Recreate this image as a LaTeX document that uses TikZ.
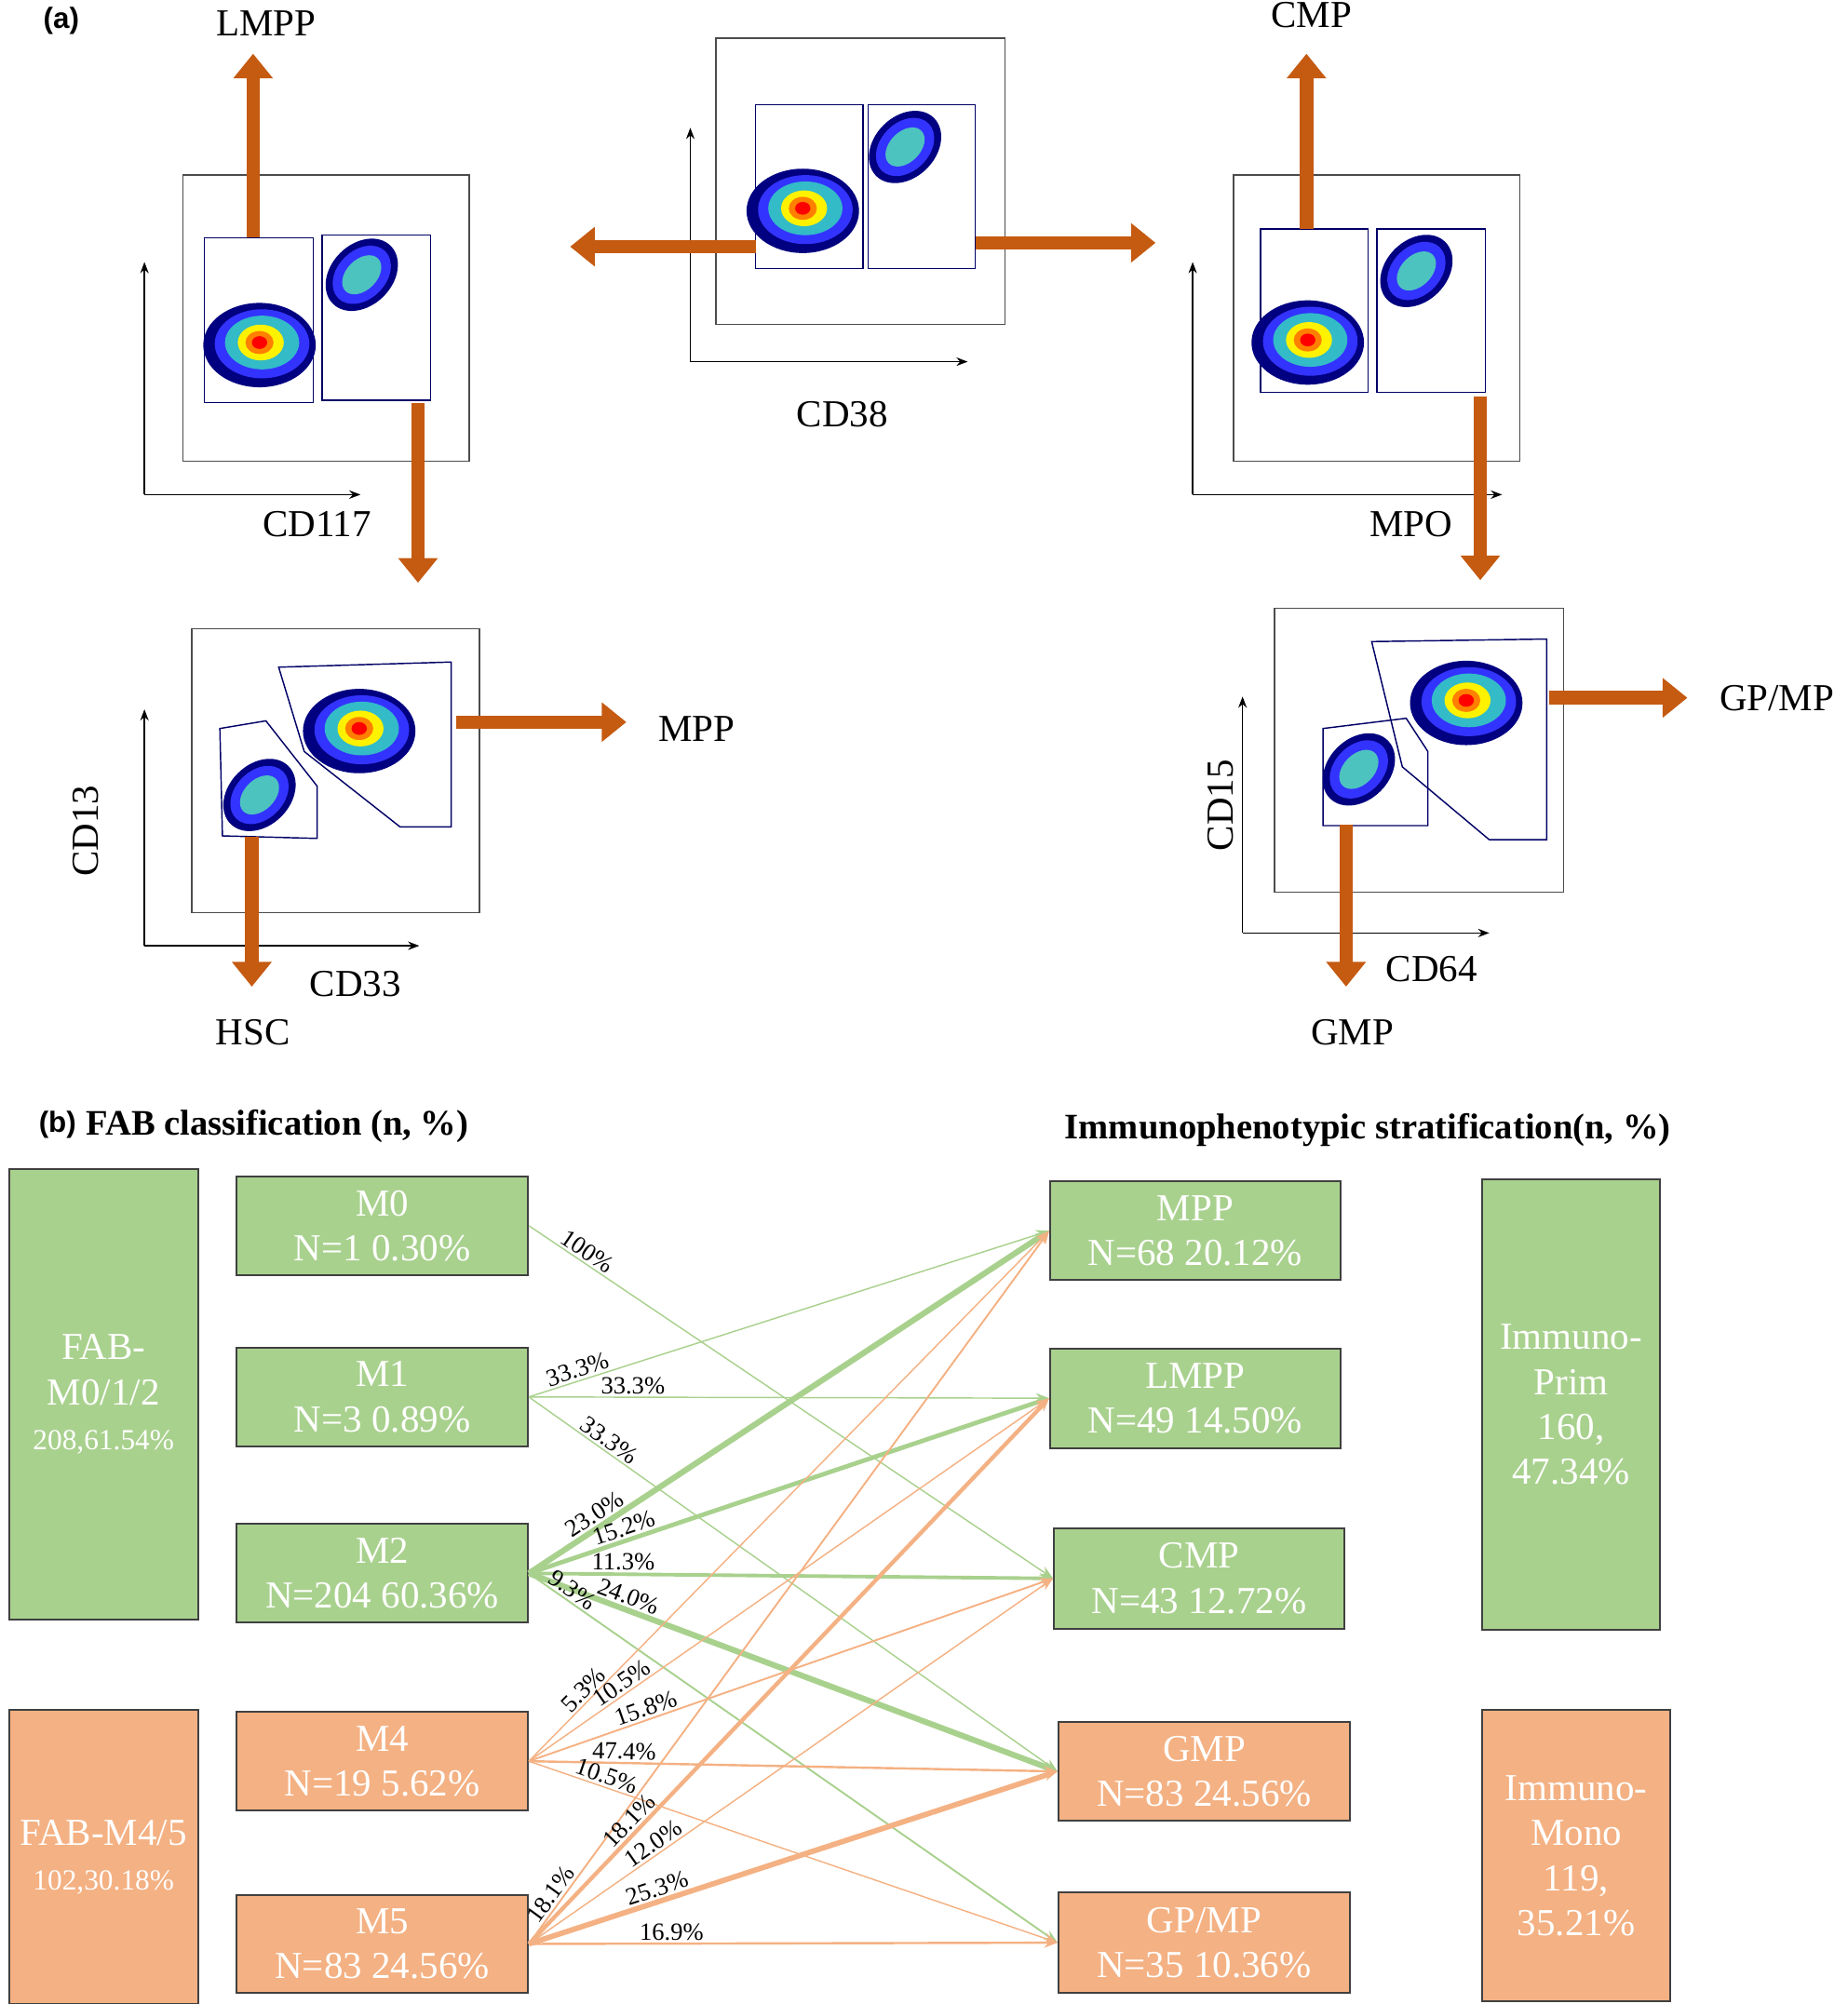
\documentclass[tikz,border=0pt]{standalone}
\usepackage{fontspec}
\setmainfont{Liberation Serif}
\newfontfamily\headfont{Liberation Sans}
\usetikzlibrary{arrows.meta}

\definecolor{arrbrown}{HTML}{C55A11}
\definecolor{boxgreen}{HTML}{A9D18E}
\definecolor{boxorange}{HTML}{F4B183}
\definecolor{edgegray}{HTML}{404040}

% dot plot blobs
\newcommand{\bigblob}[2]{%
  \begin{scope}[shift={(#1,#2)}]
    \fill[blue!50!black] (0,0) ellipse [x radius=44, y radius=33];
    \fill[blue!80!white] (2,-1) ellipse [x radius=37, y radius=27];
    \fill[cyan!70!green!80!white] (2,-2) ellipse [x radius=29, y radius=21];
    \fill[yellow] (1,-2) ellipse [x radius=18, y radius=14];
    \fill[orange] (0,-2) ellipse [x radius=11, y radius=9];
    \fill[red] (0,-2) ellipse [x radius=6, y radius=5];
  \end{scope}}
\newcommand{\smallblob}[2]{%
  \begin{scope}[shift={(#1,#2)}, rotate=45]
    \fill[blue!50!black] (0,0) ellipse [x radius=32, y radius=24];
    \fill[blue!80!white] (0,0) ellipse [x radius=26, y radius=19];
    \fill[cyan!60!green!70!white] (0,0) ellipse [x radius=18, y radius=12];
  \end{scope}}

\tikzset{
  flowarr/.style={draw=arrbrown, line width=6pt, -{Triangle[length=11pt,width=17pt]}},
  axis/.style={-{Stealth[length=5pt]}, line width=0.6pt},
  plot/.style={draw=black!70, line width=0.6pt},
  gate/.style={draw=black!60!blue, line width=0.6pt},
  lab/.style={font=\fontsize{17}{20}\selectfont},
  grbox/.style={fill=boxgreen, draw=edgegray, line width=0.8pt, text=white, align=center,
    font=\fontsize{17}{20}\selectfont},
  orbox/.style={grbox, fill=boxorange},
  gedge/.style={draw=boxgreen, -{Stealth[length=6pt]}},
  oedge/.style={draw=boxorange, -{Stealth[length=6pt]}},
  pct/.style={font=\fontsize{11}{13}\selectfont, text=black, sloped, above, inner sep=1pt},
}

\begin{document}
\begin{tikzpicture}[x=0.02cm, y=-0.02cm]
\useasboundingbox (0,0) rectangle (1445,1568);

% ---------- (a) ----------
\node[font=\headfont\bfseries\fontsize{13}{15}\selectfont] at (48,16) {(a)};

% top left plot
\draw[plot] (143,137) rectangle (367,361);
\draw[axis] (113,387) -- (113,205);
\draw[axis] (113,387) -- (282,387);
\draw[gate] (160,186) rectangle (245,315);
\draw[gate] (252,184) rectangle (337,313);
\bigblob{203}{270}
\smallblob{283}{215}
\draw[flowarr] (198,186) -- (198,42);
\draw[flowarr] (327,315) -- (327,456);
\node[lab] at (208,18) {LMPP};
\node[lab] at (248,410) {CD117};

% top centre plot
\draw[plot] (560,30) rectangle (786,254);
\draw[axis] (540,283) -- (540,100);
\draw[axis] (540,283) -- (757,283);
\draw[gate] (591,82) rectangle (675,210);
\draw[gate] (679,82) rectangle (763,210);
\bigblob{628}{165}
\smallblob{708}{115}
\draw[flowarr] (591,193) -- (446,193);
\draw[flowarr] (763,190) -- (904,190);
\node[lab] at (659,324) {CD38};

% top right plot
\draw[plot] (965,137) rectangle (1189,361);
\draw[axis] (933,387) -- (933,205);
\draw[axis] (933,387) -- (1175,387);
\draw[gate] (986,179) rectangle (1070,307);
\draw[gate] (1077,179) rectangle (1162,307);
\bigblob{1023}{268}
\smallblob{1108}{212}
\draw[flowarr] (1022,179) -- (1022,42);
\draw[flowarr] (1158,310) -- (1158,454);
\node[lab] at (1026,12) {CMP};
\node[lab] at (1104,410) {MPO};

% bottom left plot
\draw[plot] (150,492) rectangle (375,714);
\draw[axis] (113,740) -- (113,555);
\draw[axis] (113,740) -- (328,740);
\draw[gate] (172,570) -- (208,564) -- (248,615) -- (248,656) -- (174,654) -- cycle;
\draw[gate] (218,522) -- (353,518) -- (353,647) -- (313,647) -- (238,588) -- cycle;
\bigblob{281}{572}
\smallblob{203}{622}
\draw[flowarr] (357,565) -- (490,565);
\draw[flowarr] (197,655) -- (197,772);
\node[lab] at (545,570) {MPP};
\node[lab] at (198,808) {HSC};
\node[lab] at (278,770) {CD33};
\node[lab, rotate=90] at (67,650) {CD13};

% bottom right plot
\draw[plot] (997,476) rectangle (1223,698);
\draw[axis] (972,730) -- (972,545);
\draw[axis] (972,730) -- (1165,730);
\draw[gate] (1035,570) -- (1100,562) -- (1117,588) -- (1117,646) -- (1035,646) -- cycle;
\draw[gate] (1073,502) -- (1210,500) -- (1210,657) -- (1165,657) -- (1097,600) -- cycle;
\bigblob{1147}{550}
\smallblob{1063}{602}
\draw[flowarr] (1212,546) -- (1320,546);
\draw[flowarr] (1053,645) -- (1053,772);
\node[lab] at (1390,546) {GP/MP};
\node[lab] at (1058,808) {GMP};
\node[lab] at (1120,758) {CD64};
\node[lab, rotate=90] at (955,630) {CD15};

% ---------- (b) ----------
\node[font=\headfont\bfseries\fontsize{13}{15}\selectfont] at (45,880) {(b)};
\node[font=\bfseries\fontsize{16}{19}\selectfont] at (217,881) {FAB classification (n, \%)};
\node[font=\bfseries\fontsize{16}{19}\selectfont] at (1070,884) {Immunophenotypic stratification(n, \%)};

% FAB groups
\node[grbox, minimum width=2.96cm, minimum height=7.06cm] (fab012) at (81,1091) {FAB-\\M0/1/2\\{\fontsize{13}{20}\selectfont 208,61.54\%}};
\node[orbox, minimum width=2.96cm, minimum height=4.6cm] (fab45) at (81,1453) {FAB-M4/5\\{\fontsize{13}{20}\selectfont 102,30.18\%}};

% FAB subtypes
\node[grbox, minimum width=4.56cm, minimum height=1.54cm] (m0) at (299,959) {M0\\N=1 0.30\%};
\node[grbox, minimum width=4.56cm, minimum height=1.54cm] (m1) at (299,1093) {M1\\N=3 0.89\%};
\node[grbox, minimum width=4.56cm, minimum height=1.54cm] (m2) at (299,1231) {M2\\N=204 60.36\%};
\node[orbox, minimum width=4.56cm, minimum height=1.54cm] (m4) at (299,1378) {M4\\N=19 5.62\%};
\node[orbox, minimum width=4.56cm, minimum height=1.54cm] (m5) at (299,1521) {M5\\N=83 24.56\%};

% immunophenotypes
\node[grbox, minimum width=4.54cm, minimum height=1.54cm] (mpp) at (935,963) {MPP\\N=68 20.12\%};
\node[grbox, minimum width=4.54cm, minimum height=1.56cm] (lmpp) at (935,1094) {LMPP\\N=49 14.50\%};
\node[grbox, minimum width=4.54cm, minimum height=1.58cm] (cmp) at (938,1235) {CMP\\N=43 12.72\%};
\node[orbox, minimum width=4.56cm, minimum height=1.54cm] (gmp) at (942,1386) {GMP\\N=83 24.56\%};
\node[orbox, minimum width=4.56cm, minimum height=1.58cm] (gpmp) at (942,1520) {GP/MP\\N=35 10.36\%};

% immuno groups
\node[grbox, minimum width=2.78cm, minimum height=7.06cm] (prim) at (1229,1099) {Immuno-\\Prim\\160,\\47.34\%};
\node[orbox, minimum width=2.94cm, minimum height=4.56cm] (mono) at (1233,1452) {Immuno-\\Mono\\119,\\35.21\%};

% connections
\draw[gedge, line width=0.6pt] (m0.east) -- node[pct, pos=0.1] {100\%} (cmp.west);
\draw[gedge, line width=0.6pt] (m1.east) -- node[pct, pos=0.1] {33.3\%} (mpp.west);
\draw[gedge, line width=0.6pt] (m1.east) -- node[pct, pos=0.2] {33.3\%} (lmpp.west);
\draw[gedge, line width=0.6pt] (m1.east) -- node[pct, pos=0.14] {33.3\%} (gmp.west);
\draw[gedge, line width=2.6pt] (m2.east) -- node[pct, pos=0.14] {23.0\%} (mpp.west);
\draw[gedge, line width=2pt] (m2.east) -- node[pct, pos=0.19] {15.2\%} (lmpp.west);
\draw[gedge, line width=1.6pt] (m2.east) -- node[pct, pos=0.18] {11.3\%} (cmp.west);
\draw[gedge, line width=2.6pt] (m2.east) -- node[pct, pos=0.18] {24.0\%} (gmp.west);
\draw[gedge, line width=0.8pt] (m2.east) -- node[pct, pos=0.07] {9.3\%} (gpmp.west);
\draw[oedge, line width=0.6pt] (m4.east) -- node[pct, pos=0.12] {5.3\%} (mpp.west);
\draw[oedge, line width=0.6pt] (m4.east) -- node[pct, pos=0.19] {10.5\%} (lmpp.west);
\draw[oedge, line width=0.8pt] (m4.east) -- node[pct, pos=0.23] {15.8\%} (cmp.west);
\draw[oedge, line width=1pt] (m4.east) -- node[pct, pos=0.18] {47.4\%} (gmp.west);
\draw[oedge, line width=0.6pt] (m4.east) -- node[pct, pos=0.14] {10.5\%} (gpmp.west);
\draw[oedge, line width=0.8pt] (m5.east) -- node[pct, pos=0.06] {18.1\%} (mpp.west);
\draw[oedge, line width=1.8pt] (m5.east) -- node[pct, pos=0.21] {18.1\%} (lmpp.west);
\draw[oedge, line width=0.6pt] (m5.east) -- node[pct, pos=0.25] {12.0\%} (cmp.west);
\draw[oedge, line width=2.4pt] (m5.east) -- node[pct, pos=0.25] {25.3\%} (gmp.west);
\draw[oedge, line width=1pt] (m5.east) -- node[pct, pos=0.27] {16.9\%} (gpmp.west);
\end{tikzpicture}
\end{document}
